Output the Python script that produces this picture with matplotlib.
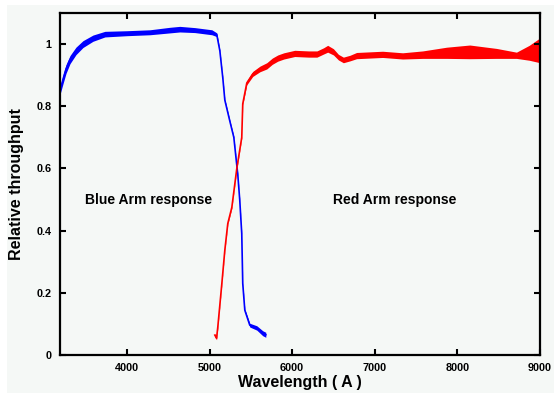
import matplotlib.pyplot as plt
from matplotlib.patches import Rectangle

# Blue arm throughput (wavelength in Angstrom, value, noise half-width)
blue_wave = [3190, 3230, 3263, 3311, 3383, 3468, 3589, 3734, 4000, 4278, 4520,
             4640, 4822, 5028, 5088, 5125, 5161, 5185, 5245, 5294, 5342, 5366,
             5390, 5402, 5427, 5487, 5572, 5644, 5681]
blue_val = [0.85, 0.89, 0.92, 0.95, 0.978, 1.0, 1.019, 1.032, 1.035, 1.038, 1.045,
            1.048, 1.045, 1.038, 1.03, 0.978, 0.89, 0.82, 0.753, 0.70, 0.58, 0.497,
            0.39, 0.23, 0.144, 0.096, 0.087, 0.07, 0.065]
blue_noise = [0.012, 0.014, 0.014, 0.013, 0.012, 0.011, 0.01, 0.009, 0.008, 0.008, 0.009,
              0.009, 0.008, 0.008, 0.006, 0.003, 0.003, 0.003, 0.003, 0.003, 0.003, 0.003,
              0.003, 0.003, 0.004, 0.006, 0.007, 0.008, 0.008]

# Red arm throughput
red_wave = [5064, 5085, 5100, 5149, 5185, 5221, 5270, 5282, 5330, 5390, 5402,
            5451, 5523, 5610, 5693, 5760, 5826, 5900, 6031, 6200, 6300, 6380,
            6430, 6500, 6560, 6620, 6700, 6780, 7095, 7337, 7580, 7870, 8150,
            8475, 8715, 8870, 9000]
red_val = [0.064, 0.054, 0.09, 0.23, 0.337, 0.423, 0.475, 0.5, 0.6, 0.7, 0.808,
           0.875, 0.904, 0.92, 0.93, 0.945, 0.955, 0.962, 0.97, 0.968, 0.968, 0.978,
           0.985, 0.975, 0.958, 0.949, 0.955, 0.963, 0.967, 0.962, 0.966, 0.972, 0.975,
           0.97, 0.964, 0.972, 0.98]
red_noise = [0.006, 0.005, 0.004, 0.003, 0.003, 0.003, 0.003, 0.003, 0.003, 0.003, 0.004,
             0.006, 0.008, 0.009, 0.01, 0.01, 0.01, 0.01, 0.01, 0.01, 0.01, 0.01,
             0.011, 0.01, 0.009, 0.009, 0.009, 0.01, 0.01, 0.01, 0.012, 0.018, 0.022,
             0.016, 0.01, 0.024, 0.04]

xticks = [4000, 5000, 6000, 7000, 8000, 9000]
yticks = [0, 0.2, 0.4, 0.6, 0.8, 1.0]
ytick_labels = ['0', '0.2', '0.4', '0.6', '0.8', '1']

plt.rcParams['font.family'] = ['Liberation Sans', 'DejaVu Sans']
plt.rcParams['font.weight'] = 'bold'

bg = '#f5f8f6'
fig = plt.figure(figsize=(5.54, 3.93), dpi=100, facecolor='white')
fig.patches.append(Rectangle((7 / 554, 0), 1, 1 - 5 / 393, transform=fig.transFigure,
                             facecolor=bg, edgecolor='none', zorder=-1))
ax = fig.add_axes([60 / 554, 38 / 393, 480 / 554, 342 / 393])
ax.set_facecolor(bg)

b_lo = [v - n for v, n in zip(blue_val, blue_noise)]
b_hi = [v + n for v, n in zip(blue_val, blue_noise)]
r_lo = [v - n for v, n in zip(red_val, red_noise)]
r_hi = [v + n for v, n in zip(red_val, red_noise)]

ax.fill_between(blue_wave, b_lo, b_hi, color='#0000ff', linewidth=0)
ax.plot(blue_wave, blue_val, color='#0000ff', linewidth=1.2)
ax.fill_between(red_wave, r_lo, r_hi, color='#ff0000', linewidth=0)
ax.plot(red_wave, red_val, color='#ff0000', linewidth=1.2)

ax.set_xlim(3190, 9000)
ax.set_ylim(0, 1.1)
ax.set_xticks(xticks)
ax.set_yticks(yticks)
ax.set_yticklabels(ytick_labels)
ax.tick_params(direction='in', length=4, width=1.5, labelsize=7.8,
               top=True, right=True, pad=6)
for s in ax.spines.values():
    s.set_linewidth(1.6)

ax.text(4260, 0.5, 'Blue Arm response', ha='center', va='center',
        fontsize=10, fontweight='bold')
ax.text(7240, 0.5, 'Red Arm response', ha='center', va='center',
        fontsize=10, fontweight='bold')

ax.set_xlabel('Wavelength ( A )', fontsize=11.5, fontweight='bold', labelpad=1)
ax.set_ylabel('Relative throughput', fontsize=11.5, fontweight='bold', labelpad=9)

fig.savefig('out.png', dpi=100, facecolor=fig.get_facecolor())
